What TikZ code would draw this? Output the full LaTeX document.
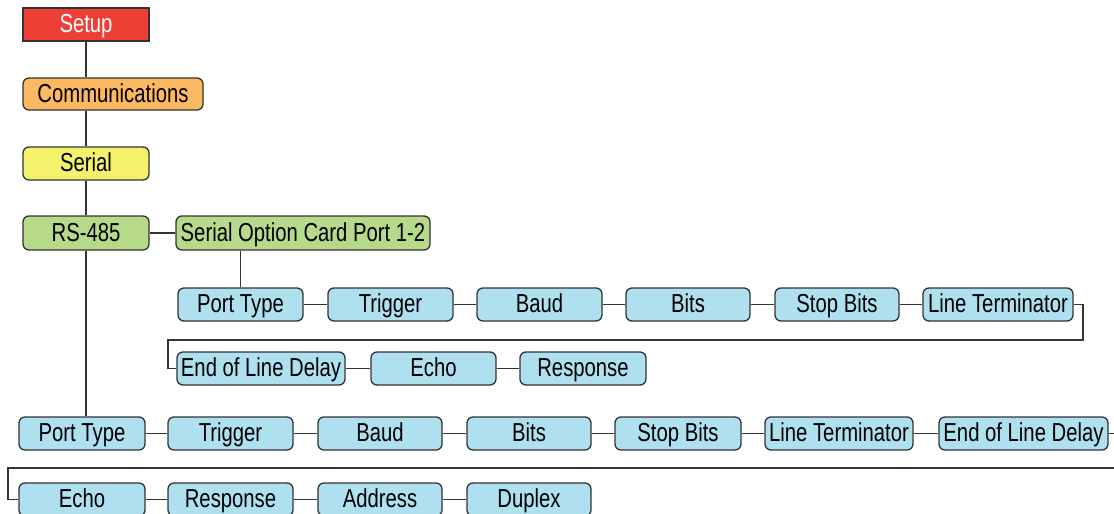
\documentclass[tikz,border=0pt]{standalone}
\usepackage{fontspec}
\setmainfont{Liberation Sans}[FakeStretch=0.78]
\usetikzlibrary{calc}
\definecolor{menured}{HTML}{EE3F37}
\definecolor{menuorange}{HTML}{FDB862}
\definecolor{menuyellow}{HTML}{F4F16C}
\definecolor{menugreen}{HTML}{B7D98A}
\definecolor{menublue}{HTML}{AEE0F0}
\definecolor{menuline}{HTML}{333333}
\tikzset{
	menubox/.style={draw=menuline, line width=1.3pt, rounded corners=6pt, minimum width=125pt, minimum height=33pt, inner xsep=2pt, inner ysep=0pt, text height=18.6pt, text depth=2pt, font=\fontsize{26}{29}\selectfont},
	rootbox/.style={menubox, rounded corners=0pt, line width=2pt, fill=menured, text=white},
	leafbox/.style={menubox, fill=menublue},
	link/.style={draw=menuline, line width=1.2pt}
}

\begin{document}
\begin{tikzpicture}[x=1pt, y=-1pt]
			%%%%% START %%%%%
			
			\useasboundingbox (0, 0) rectangle (1114, 514);
			\clip (0, 0) rectangle (1114, 514);
			
			\node[rootbox, minimum width=126pt] (setup) at (86, 24.5) {Setup};
			\node[menubox, fill=menuorange, minimum width=180pt, minimum height=32pt] (comm) at (113, 94) {Communications};
			\node[menubox, fill=menuyellow, minimum width=126pt] (serial) at (86, 163.5) {Serial};
			\node[menubox, fill=menugreen, minimum width=126pt, minimum height=34pt] (rs) at (86, 233) {RS-485};
			\node[menubox, fill=menugreen, minimum width=254pt, minimum height=34pt] (card) at (303, 233) {Serial Option Card Port 1-2};
			
			\draw[link] (setup.south) -- (setup.south|-comm.north);
			\draw[link] (setup.south|-comm.south) -- (serial.north);
			\draw[link] (serial.south) -- (rs.north);
			\draw[link] (rs.east) -- (card.west);
			
			% option card menu
			\node[leafbox] (cptype) at (240.5, 304.5) {Port Type};
			\node[leafbox] (ctrig) at (390.5, 304.5) {Trigger};
			\node[leafbox] (cbaud) at (539.5, 304.5) {Baud};
			\node[leafbox, minimum width=124pt] (cbits) at (688, 304.5) {Bits};
			\node[leafbox, minimum width=124pt] (cstop) at (837, 304.5) {Stop Bits};
			\node[leafbox, minimum width=150pt] (cterm) at (998, 304.5) {Line Terminator};
			\node[leafbox, minimum width=168pt] (cdelay) at (261, 368.5) {End of Line Delay};
			\node[leafbox] (cecho) at (433.5, 368.5) {Echo};
			\node[leafbox, minimum width=126pt] (cresp) at (583, 368.5) {Response};
			
			\draw[link] (cptype.north) -- (cptype.north|-card.south);
			\draw[link] (cptype) -- (ctrig);
			\draw[link] (ctrig) -- (cbaud);
			\draw[link] (cbaud) -- (cbits);
			\draw[link] (cbits) -- (cstop);
			\draw[link] (cstop) -- (cterm);
			\coordinate (cwrapr) at (1083, 340);
			\coordinate (cwrapl) at (168, 340);
			\draw[link] (cterm.east) -| (cwrapr) -- (cwrapl) |- (cdelay.west);
			\draw[link] (cdelay) -- (cecho);
			\draw[link] (cecho) -- (cresp);
			
			% RS-485 menu
			\node[leafbox, minimum width=126pt] (ptype) at (82, 433.5) {Port Type};
			\node[leafbox] (trig) at (230.5, 433.5) {Trigger};
			\node[leafbox, minimum width=124pt] (baud) at (380, 433.5) {Baud};
			\node[leafbox, minimum width=124pt] (bits) at (529, 433.5) {Bits};
			\node[leafbox, minimum width=126pt] (stop) at (678, 433.5) {Stop Bits};
			\node[leafbox, minimum width=148pt] (term) at (839, 433.5) {Line Terminator};
			\node[leafbox, minimum width=169pt] (delay) at (1023.5, 433.5) {End of Line Delay};
			\node[leafbox, minimum width=126pt] (echo) at (82, 499.5) {Echo};
			\node[leafbox] (resp) at (230.5, 499.5) {Response};
			\node[leafbox, minimum width=124pt] (addr) at (380, 499.5) {Address};
			\node[leafbox, minimum width=124pt] (duplex) at (529, 499.5) {Duplex};
			
			\draw[link] (rs.south) -- (rs.south|-ptype.north);
			\draw[link] (ptype) -- (trig);
			\draw[link] (trig) -- (baud);
			\draw[link] (baud) -- (bits);
			\draw[link] (bits) -- (stop);
			\draw[link] (stop) -- (term);
			\draw[link] (term) -- (delay);
			\coordinate (wrapr) at (1124, 468);
			\coordinate (wrapl) at (8, 468);
			\draw[link] (delay.east) -| (wrapr) -- (wrapl) |- (echo.west);
			\draw[link] (echo) -- (resp);
			\draw[link] (resp) -- (addr);
			\draw[link] (addr) -- (duplex);
			
			%%%%% END %%%%%
\end{tikzpicture}
\end{document}
